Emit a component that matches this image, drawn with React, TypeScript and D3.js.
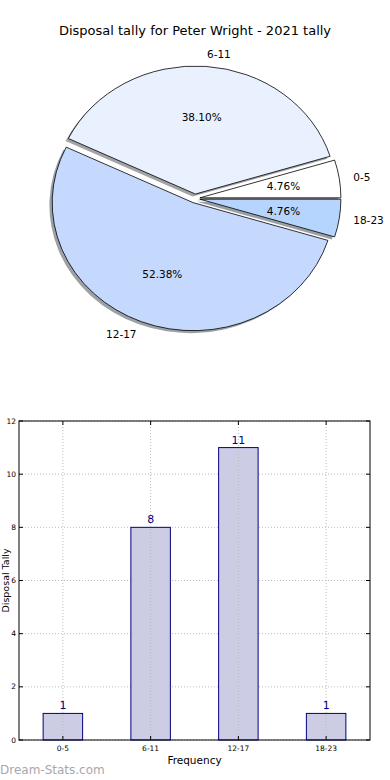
import * as d3 from 'd3';
import * as React from 'react';

// chart values
const categories = ['0-5', '6-11', '12-17', '18-23'];
const counts = [1, 8, 11, 1];
const sliceColors = ['#ffffff', '#eaf1fe', '#c5d9fe', '#b5d5fe'];
const yTicks = [0, 2, 4, 6, 8, 10, 12];

const W = 390;
const H = 780;
const FONT = '"DejaVu Sans", sans-serif';

// pie geometry (matplotlib style, slightly elliptical)
const cx = 195;
const cy = 198.5;
const rx = 141;
const ry = 128;
const explode = 0.035;
const R = 100;

// bar axes box
const ax = { left: 19, right: 370, top: 421, bottom: 740 };

const total = d3.sum(counts);

function shade(c: string) {
  const col = d3.rgb(c);
  return d3.rgb(col.r * 0.3, col.g * 0.3, col.b * 0.3).toString();
}

const PieChart = () => {
  const pie = d3.pie<number>().sort(null).startAngle(Math.PI / 2).endAngle(Math.PI / 2 - 2 * Math.PI);
  const arcs = pie(counts);
  const arcGen = d3.arc<d3.PieArcDatum<number>>().innerRadius(0).outerRadius(R);

  const slices = arcs.map((a, i) => {
    const m = (a.startAngle + a.endAngle) / 2;
    const sx = Math.sin(m);
    const sy = -Math.cos(m);
    const ox = cx + explode * rx * sx;
    const oy = cy + explode * ry * sy;
    return { a, i, sx, sy, ox, oy };
  });

  return (
    <g>
      <text x={W / 2} y={30} textAnchor='middle' dominantBaseline='central' fontFamily={FONT} fontSize={13}>
        Disposal tally for Peter Wright - 2021 tally
      </text>
      {slices.map(s => (
        <path
          key={'sh' + s.i}
          d={arcGen(s.a)}
          transform={`translate(${s.ox - 2.8}, ${s.oy + 2.5}) scale(${rx / R}, ${ry / R})`}
          fill={shade(sliceColors[s.i])}
          fillOpacity={0.5}
        />
      ))}
      {slices.map(s => (
        <path
          key={'sl' + s.i}
          d={arcGen(s.a)}
          transform={`translate(${s.ox}, ${s.oy}) scale(${rx / R}, ${ry / R})`}
          fill={sliceColors[s.i]}
          stroke='#000'
          strokeWidth={0.8}
          vectorEffect='non-scaling-stroke'
        />
      ))}
      {slices.map(s => (
        <text
          key={'lb' + s.i}
          x={s.ox + 1.1 * rx * s.sx}
          y={s.oy + 1.1 * ry * s.sy}
          textAnchor={s.sx > 0 ? 'start' : 'end'}
          dominantBaseline='central'
          fontFamily={FONT}
          fontSize={10.5}
        >
          {categories[s.i]}
        </text>
      ))}
      {slices.map(s => (
        <text
          key={'pc' + s.i}
          x={s.ox + 0.6 * rx * s.sx}
          y={s.oy + 0.6 * ry * s.sy}
          textAnchor='middle'
          dominantBaseline='central'
          fontFamily={FONT}
          fontSize={10.5}
        >
          {((counts[s.i] / total) * 100).toFixed(2)}%
        </text>
      ))}
    </g>
  );
};

const BarChart = () => {
  const x = d3.scaleLinear().domain([-0.5, categories.length - 0.5]).range([ax.left, ax.right]);
  const y = d3.scaleLinear().domain([0, 12]).range([ax.bottom, ax.top]);
  const bw = x(0.45) - x(0);

  return (
    <g>
      {yTicks.map(t => (
        <line key={'gy' + t} x1={ax.left} x2={ax.right} y1={y(t)} y2={y(t)} stroke='#bbb' strokeWidth={1} strokeDasharray='1,2' />
      ))}
      {categories.map((c, i) => (
        <rect
          key={'b' + c}
          x={x(i) - bw / 2}
          y={y(counts[i])}
          width={bw}
          height={y(0) - y(counts[i])}
          fill='#cccce5'
          stroke='#000080'
          strokeWidth={1}
        />
      ))}
      {categories.map((c, i) => (
        <line key={'gx' + c} x1={x(i)} x2={x(i)} y1={ax.top} y2={ax.bottom} stroke='#bbb' strokeWidth={1} strokeDasharray='1,2' />
      ))}
      {categories.map((c, i) => (
        <text key={'v' + c} x={x(i)} y={y(counts[i]) - 4} textAnchor='middle' fontFamily={FONT} fontSize={11} fill='#000080'>
          {counts[i]}
        </text>
      ))}
      <rect x={ax.left} y={ax.top} width={ax.right - ax.left} height={ax.bottom - ax.top} fill='none' stroke='#000' strokeWidth={1} />
      {yTicks.map(t => (
        <g key={'ty' + t}>
          <line x1={ax.left} x2={ax.left + 4} y1={y(t)} y2={y(t)} stroke='#000' />
          <line x1={ax.right - 4} x2={ax.right} y1={y(t)} y2={y(t)} stroke='#000' />
          <text x={ax.left - 3} y={y(t)} textAnchor='end' dominantBaseline='central' fontFamily={FONT} fontSize={7.5}>
            {t}
          </text>
        </g>
      ))}
      {categories.map((c, i) => (
        <g key={'tx' + c}>
          <line x1={x(i)} x2={x(i)} y1={ax.bottom} y2={ax.bottom - 4} stroke='#000' />
          <line x1={x(i)} x2={x(i)} y1={ax.top} y2={ax.top + 4} stroke='#000' />
          <text x={x(i)} y={ax.bottom + 8} textAnchor='middle' dominantBaseline='central' fontFamily={FONT} fontSize={7.5}>
            {c}
          </text>
        </g>
      ))}
      <text x={(ax.left + ax.right) / 2} y={760} textAnchor='middle' dominantBaseline='central' fontFamily={FONT} fontSize={10.5}>
        Frequency
      </text>
      <text
        transform={`translate(5, ${(ax.top + ax.bottom) / 2}) rotate(-90)`}
        textAnchor='middle'
        dominantBaseline='central'
        fontFamily={FONT}
        fontSize={9.5}
      >
        Disposal Tally
      </text>
      <text x={0} y={770} dominantBaseline='central' fontFamily={FONT} fontSize={12} fill='#a8a8a8'>
        Dream-Stats.com
      </text>
    </g>
  );
};

const App = () => (
  <svg width={W} height={H} style={{ position: 'absolute', left: 0, top: 0, background: '#fff' }}>
    <rect width={W} height={H} fill='#fff' />
    <PieChart />
    <BarChart />
  </svg>
);

export default App;
